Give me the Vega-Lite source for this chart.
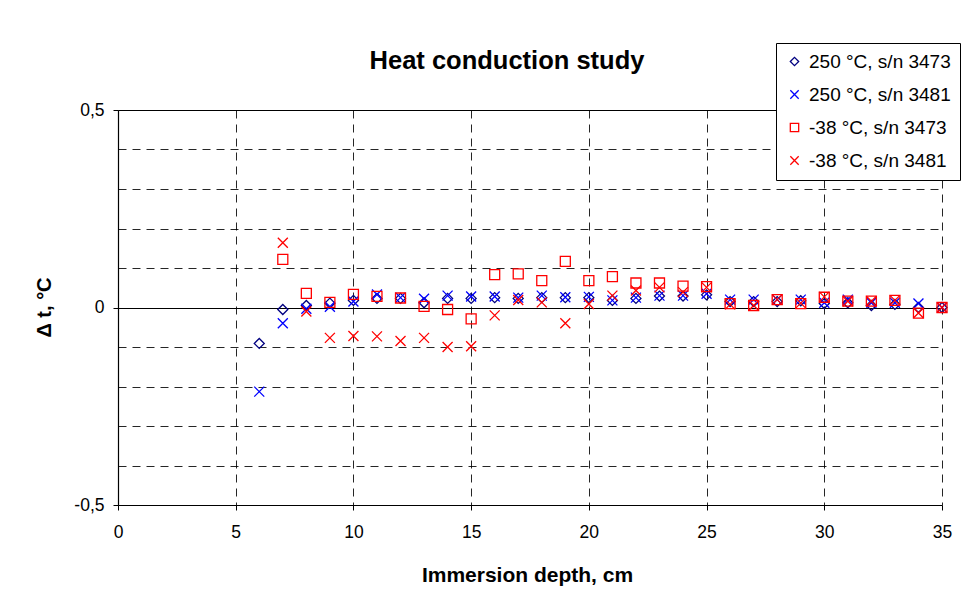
{
  "$schema": "https://vega.github.io/schema/vega-lite/v6.json",
  "autosize": "none",
  "width": 824,
  "height": 395,
  "padding": {"left": 118, "top": 110, "right": 37, "bottom": 99},
  "background": "white",
  "config": {
    "view": {"stroke": null},
    "font": "Liberation Sans"
  },
  "title": {
    "text": "Heat conduction study",
    "font": "Liberation Sans",
    "fontSize": 25.5,
    "fontWeight": "bold",
    "color": "#000",
    "anchor": "middle",
    "dx": -23,
    "baseline": "alphabetic",
    "offset": -52
  },
  "data": {
    "values": [
      {"depth": 6, "dt": -0.091, "series": "250 °C, s/n 3473"},
      {"depth": 7, "dt": -0.005, "series": "250 °C, s/n 3473"},
      {"depth": 8, "dt": 0.005, "series": "250 °C, s/n 3473"},
      {"depth": 9, "dt": 0.011, "series": "250 °C, s/n 3473"},
      {"depth": 10, "dt": 0.018, "series": "250 °C, s/n 3473"},
      {"depth": 11, "dt": 0.023, "series": "250 °C, s/n 3473"},
      {"depth": 12, "dt": 0.023, "series": "250 °C, s/n 3473"},
      {"depth": 13, "dt": 0.012, "series": "250 °C, s/n 3473"},
      {"depth": 14, "dt": 0.023, "series": "250 °C, s/n 3473"},
      {"depth": 15, "dt": 0.023, "series": "250 °C, s/n 3473"},
      {"depth": 16, "dt": 0.025, "series": "250 °C, s/n 3473"},
      {"depth": 17, "dt": 0.023, "series": "250 °C, s/n 3473"},
      {"depth": 18, "dt": 0.025, "series": "250 °C, s/n 3473"},
      {"depth": 19, "dt": 0.025, "series": "250 °C, s/n 3473"},
      {"depth": 20, "dt": 0.025, "series": "250 °C, s/n 3473"},
      {"depth": 21, "dt": 0.018, "series": "250 °C, s/n 3473"},
      {"depth": 22, "dt": 0.023, "series": "250 °C, s/n 3473"},
      {"depth": 23, "dt": 0.029, "series": "250 °C, s/n 3473"},
      {"depth": 24, "dt": 0.029, "series": "250 °C, s/n 3473"},
      {"depth": 25, "dt": 0.032, "series": "250 °C, s/n 3473"},
      {"depth": 26, "dt": 0.015, "series": "250 °C, s/n 3473"},
      {"depth": 27, "dt": 0.015, "series": "250 °C, s/n 3473"},
      {"depth": 28, "dt": 0.015, "series": "250 °C, s/n 3473"},
      {"depth": 29, "dt": 0.017, "series": "250 °C, s/n 3473"},
      {"depth": 30, "dt": 0.01, "series": "250 °C, s/n 3473"},
      {"depth": 31, "dt": 0.012, "series": "250 °C, s/n 3473"},
      {"depth": 32, "dt": 0.005, "series": "250 °C, s/n 3473"},
      {"depth": 33, "dt": 0.008, "series": "250 °C, s/n 3473"},
      {"depth": 34, "dt": 0.0, "series": "250 °C, s/n 3473"},
      {"depth": 35, "dt": 0.0, "series": "250 °C, s/n 3473"},

      {"depth": 6, "dt": -0.213, "series": "250 °C, s/n 3481"},
      {"depth": 7, "dt": -0.04, "series": "250 °C, s/n 3481"},
      {"depth": 8, "dt": -0.003, "series": "250 °C, s/n 3481"},
      {"depth": 9, "dt": 0.002, "series": "250 °C, s/n 3481"},
      {"depth": 10, "dt": 0.015, "series": "250 °C, s/n 3481"},
      {"depth": 11, "dt": 0.033, "series": "250 °C, s/n 3481"},
      {"depth": 12, "dt": 0.025, "series": "250 °C, s/n 3481"},
      {"depth": 13, "dt": 0.022, "series": "250 °C, s/n 3481"},
      {"depth": 14, "dt": 0.03, "series": "250 °C, s/n 3481"},
      {"depth": 15, "dt": 0.028, "series": "250 °C, s/n 3481"},
      {"depth": 16, "dt": 0.028, "series": "250 °C, s/n 3481"},
      {"depth": 17, "dt": 0.025, "series": "250 °C, s/n 3481"},
      {"depth": 18, "dt": 0.03, "series": "250 °C, s/n 3481"},
      {"depth": 19, "dt": 0.026, "series": "250 °C, s/n 3481"},
      {"depth": 20, "dt": 0.027, "series": "250 °C, s/n 3481"},
      {"depth": 21, "dt": 0.018, "series": "250 °C, s/n 3481"},
      {"depth": 22, "dt": 0.025, "series": "250 °C, s/n 3481"},
      {"depth": 23, "dt": 0.03, "series": "250 °C, s/n 3481"},
      {"depth": 24, "dt": 0.03, "series": "250 °C, s/n 3481"},
      {"depth": 25, "dt": 0.035, "series": "250 °C, s/n 3481"},
      {"depth": 26, "dt": 0.02, "series": "250 °C, s/n 3481"},
      {"depth": 27, "dt": 0.02, "series": "250 °C, s/n 3481"},
      {"depth": 28, "dt": 0.02, "series": "250 °C, s/n 3481"},
      {"depth": 29, "dt": 0.02, "series": "250 °C, s/n 3481"},
      {"depth": 30, "dt": 0.012, "series": "250 °C, s/n 3481"},
      {"depth": 31, "dt": 0.02, "series": "250 °C, s/n 3481"},
      {"depth": 32, "dt": 0.012, "series": "250 °C, s/n 3481"},
      {"depth": 33, "dt": 0.012, "series": "250 °C, s/n 3481"},
      {"depth": 34, "dt": 0.01, "series": "250 °C, s/n 3481"},
      {"depth": 35, "dt": 0.0, "series": "250 °C, s/n 3481"},

      {"depth": 7, "dt": 0.122, "series": "-38 °C, s/n 3473"},
      {"depth": 8, "dt": 0.036, "series": "-38 °C, s/n 3473"},
      {"depth": 9, "dt": 0.013, "series": "-38 °C, s/n 3473"},
      {"depth": 10, "dt": 0.033, "series": "-38 °C, s/n 3473"},
      {"depth": 11, "dt": 0.028, "series": "-38 °C, s/n 3473"},
      {"depth": 12, "dt": 0.024, "series": "-38 °C, s/n 3473"},
      {"depth": 13, "dt": 0.003, "series": "-38 °C, s/n 3473"},
      {"depth": 14, "dt": -0.005, "series": "-38 °C, s/n 3473"},
      {"depth": 15, "dt": -0.029, "series": "-38 °C, s/n 3473"},
      {"depth": 16, "dt": 0.083, "series": "-38 °C, s/n 3473"},
      {"depth": 17, "dt": 0.085, "series": "-38 °C, s/n 3473"},
      {"depth": 18, "dt": 0.068, "series": "-38 °C, s/n 3473"},
      {"depth": 19, "dt": 0.117, "series": "-38 °C, s/n 3473"},
      {"depth": 20, "dt": 0.068, "series": "-38 °C, s/n 3473"},
      {"depth": 21, "dt": 0.078, "series": "-38 °C, s/n 3473"},
      {"depth": 22, "dt": 0.062, "series": "-38 °C, s/n 3473"},
      {"depth": 23, "dt": 0.062, "series": "-38 °C, s/n 3473"},
      {"depth": 24, "dt": 0.054, "series": "-38 °C, s/n 3473"},
      {"depth": 25, "dt": 0.053, "series": "-38 °C, s/n 3473"},
      {"depth": 26, "dt": 0.01, "series": "-38 °C, s/n 3473"},
      {"depth": 27, "dt": 0.005, "series": "-38 °C, s/n 3473"},
      {"depth": 28, "dt": 0.02, "series": "-38 °C, s/n 3473"},
      {"depth": 29, "dt": 0.01, "series": "-38 °C, s/n 3473"},
      {"depth": 30, "dt": 0.026, "series": "-38 °C, s/n 3473"},
      {"depth": 31, "dt": 0.016, "series": "-38 °C, s/n 3473"},
      {"depth": 32, "dt": 0.016, "series": "-38 °C, s/n 3473"},
      {"depth": 33, "dt": 0.018, "series": "-38 °C, s/n 3473"},
      {"depth": 34, "dt": -0.014, "series": "-38 °C, s/n 3473"},
      {"depth": 35, "dt": 0.0, "series": "-38 °C, s/n 3473"},

      {"depth": 7, "dt": 0.164, "series": "-38 °C, s/n 3481"},
      {"depth": 8, "dt": -0.01, "series": "-38 °C, s/n 3481"},
      {"depth": 9, "dt": -0.077, "series": "-38 °C, s/n 3481"},
      {"depth": 10, "dt": -0.072, "series": "-38 °C, s/n 3481"},
      {"depth": 11, "dt": -0.073, "series": "-38 °C, s/n 3481"},
      {"depth": 12, "dt": -0.085, "series": "-38 °C, s/n 3481"},
      {"depth": 13, "dt": -0.077, "series": "-38 °C, s/n 3481"},
      {"depth": 14, "dt": -0.1, "series": "-38 °C, s/n 3481"},
      {"depth": 15, "dt": -0.098, "series": "-38 °C, s/n 3481"},
      {"depth": 16, "dt": -0.02, "series": "-38 °C, s/n 3481"},
      {"depth": 17, "dt": 0.019, "series": "-38 °C, s/n 3481"},
      {"depth": 18, "dt": 0.013, "series": "-38 °C, s/n 3481"},
      {"depth": 19, "dt": -0.04, "series": "-38 °C, s/n 3481"},
      {"depth": 20, "dt": 0.009, "series": "-38 °C, s/n 3481"},
      {"depth": 21, "dt": 0.03, "series": "-38 °C, s/n 3481"},
      {"depth": 22, "dt": 0.043, "series": "-38 °C, s/n 3481"},
      {"depth": 23, "dt": 0.051, "series": "-38 °C, s/n 3481"},
      {"depth": 24, "dt": 0.039, "series": "-38 °C, s/n 3481"},
      {"depth": 25, "dt": 0.051, "series": "-38 °C, s/n 3481"},
      {"depth": 26, "dt": 0.008, "series": "-38 °C, s/n 3481"},
      {"depth": 27, "dt": 0.005, "series": "-38 °C, s/n 3481"},
      {"depth": 28, "dt": 0.02, "series": "-38 °C, s/n 3481"},
      {"depth": 29, "dt": 0.011, "series": "-38 °C, s/n 3481"},
      {"depth": 30, "dt": 0.027, "series": "-38 °C, s/n 3481"},
      {"depth": 31, "dt": 0.016, "series": "-38 °C, s/n 3481"},
      {"depth": 32, "dt": 0.016, "series": "-38 °C, s/n 3481"},
      {"depth": 33, "dt": 0.018, "series": "-38 °C, s/n 3481"},
      {"depth": 34, "dt": -0.014, "series": "-38 °C, s/n 3481"},
      {"depth": 35, "dt": 0.0, "series": "-38 °C, s/n 3481"}
    ]
  },
  "mark": {"type": "point", "filled": false, "size": 100, "strokeWidth": 1.3, "opacity": 1},
  "encoding": {
    "x": {
      "field": "depth",
      "type": "quantitative",
      "scale": {"domain": [0, 35], "nice": false, "zero": false},
      "axis": {
        "values": [0, 5, 10, 15, 20, 25, 30, 35],
        "title": "Immersion depth, cm",
        "titleFont": "Liberation Sans",
        "titleFontSize": 21,
        "titleFontWeight": "bold",
        "titleColor": "#000",
        "titleBaseline": "middle",
        "titleX": 409,
        "titleY": 70,
        "labelFont": "Liberation Sans",
        "labelFontSize": 17.5,
        "labelColor": "#000",
        "labelPadding": 13,
        "labelFlush": false,
        "tickSize": 5,
        "tickColor": "#000",
        "domainColor": "#000",
        "domainWidth": 1.2,
        "grid": true,
        "gridColor": "#000",
        "gridDash": [8, 6],
        "gridWidth": 1,
        "gridOpacity": 0.85
      }
    },
    "y": {
      "field": "dt",
      "type": "quantitative",
      "scale": {"domain": [-0.5, 0.5], "nice": false, "zero": false},
      "axis": {
        "values": [-0.5, -0.4, -0.3, -0.2, -0.1, 0, 0.1, 0.2, 0.3, 0.4, 0.5],
        "labelExpr": "datum.value > 0.49 ? '0,5' : datum.value < -0.49 ? '-0,5' : abs(datum.value) < 0.001 ? '0' : ''",
        "title": "Δ t, °C",
        "titleFont": "Liberation Sans",
        "titleFontSize": 20,
        "titleFontWeight": "bold",
        "titleColor": "#000",
        "titleBaseline": "middle",
        "titleX": -74,
        "titleY": 197,
        "labelFont": "Liberation Sans",
        "labelFontSize": 17.5,
        "labelColor": "#000",
        "labelPadding": 9,
        "labelFlush": false,
        "labelOverlap": false,
        "tickSize": 5,
        "tickColor": "#000",
        "tickOpacity": {"condition": {"test": "abs(datum.value) > 0.49 || abs(datum.value) < 0.001", "value": 1}, "value": 0},
        "domainColor": "#000",
        "domainWidth": 1.2,
        "grid": true,
        "gridColor": "#000",
        "gridDash": {"condition": {"test": "datum.value > 0.49 || abs(datum.value) < 0.001", "value": []}, "value": [8, 6]},
        "gridOpacity": {"condition": {"test": "datum.value > 0.49 || abs(datum.value) < 0.001", "value": 1}, "value": 0.85},
        "gridWidth": 1
      }
    },
    "color": {
      "field": "series",
      "type": "nominal",
      "sort": null,
      "scale": {
        "domain": ["250 °C, s/n 3473", "250 °C, s/n 3481", "-38 °C, s/n 3473", "-38 °C, s/n 3481"],
        "range": ["#000080", "#0000FF", "#FF0000", "#FF0000"]
      },
      "legend": {
        "orient": "none",
        "legendX": 658,
        "legendY": -67,
        "title": null,
        "strokeColor": "#000",
        "fillColor": "#fff",
        "padding": 9,
        "rowPadding": 13,
        "labelFont": "Liberation Sans",
        "labelFontSize": 19,
        "labelColor": "#000",
        "labelOffset": 5,
        "labelLimit": 300,
        "symbolSize": 70,
        "symbolStrokeWidth": 1.3
      }
    },
    "shape": {
      "field": "series",
      "type": "nominal",
      "sort": null,
      "scale": {
        "domain": ["250 °C, s/n 3473", "250 °C, s/n 3481", "-38 °C, s/n 3473", "-38 °C, s/n 3481"],
        "range": ["diamond", "M-1,-1L1,1M-1,1L1,-1", "square", "M-1,-1L1,1M-1,1L1,-1"]
      }
    }
  }
}
